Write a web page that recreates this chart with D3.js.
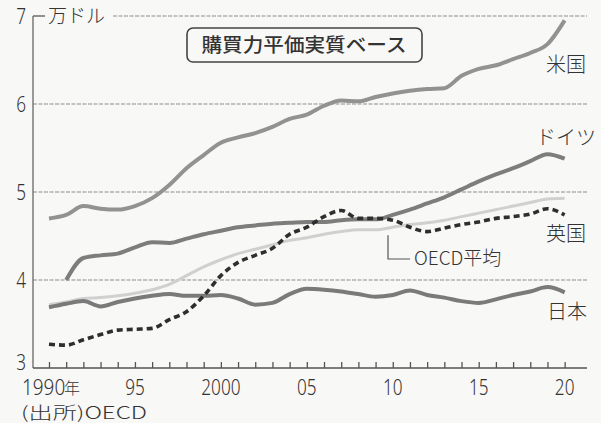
<!DOCTYPE html>
<html>
<head>
<meta charset="utf-8">
<script src="https://cdn.jsdelivr.net/npm/d3@7"></script>
<style>
body{margin:0;background:#f8f8f6;}
svg text{fill:#333;}
</style>
</head>
<body>
<svg id="chart" width="601" height="423"></svg>
<script>
// データ（万ドル、購買力平価実質ベース）
var years=d3.range(1990,2021);
var usa=[4.70,4.74,4.84,4.81,4.80,4.84,4.93,5.08,5.27,5.42,5.56,5.62,5.67,5.74,5.83,5.88,5.98,6.04,6.03,6.08,6.12,6.15,6.17,6.18,6.32,6.40,6.44,6.51,6.58,6.68,6.95];
var germany=[null,4.00,4.25,4.28,4.30,4.37,4.43,4.42,4.47,4.52,4.56,4.60,4.62,4.64,4.65,4.66,4.66,4.68,4.69,4.69,4.74,4.80,4.87,4.94,5.03,5.12,5.20,5.27,5.35,5.43,5.38];
var uk=[3.27,3.26,3.32,3.38,3.43,3.44,3.45,3.55,3.64,3.82,4.05,4.20,4.28,4.36,4.52,4.60,4.72,4.79,4.70,4.70,4.68,4.60,4.55,4.59,4.63,4.66,4.70,4.72,4.75,4.81,4.74];
var oecd=[3.72,3.75,3.79,3.80,3.82,3.85,3.89,3.95,4.05,4.15,4.23,4.30,4.35,4.40,4.45,4.48,4.52,4.55,4.57,4.57,4.60,4.63,4.65,4.68,4.72,4.76,4.80,4.84,4.88,4.92,4.93];
var japan=[3.69,3.73,3.76,3.70,3.75,3.79,3.82,3.84,3.82,3.82,3.83,3.79,3.72,3.74,3.84,3.90,3.89,3.87,3.84,3.81,3.83,3.88,3.83,3.80,3.76,3.74,3.78,3.83,3.87,3.92,3.86];
var yTicks=[3,4,5,6,7];
var xTickLabels=[{y:1990,t:"1990"},{y:1995,t:"95"},{y:2000,t:"2000"},{y:2005,t:"05"},{y:2010,t:"10"},{y:2015,t:"15"},{y:2020,t:"20"}];

var svg=d3.select("#chart");
var fontNum="'Noto Sans','DejaVu Sans',sans-serif";
var fontJp="'Noto Sans CJK JP',sans-serif";
var narrow=0.78;//数字は縦長の書体なので横方向に縮める

var x=d3.scaleLinear().domain([1989.07,2021.3]).range([33,587]);
var y=d3.scaleLinear().domain([3,7]).range([368,16]);

//グリッド線
svg.append("g").selectAll("line")
    .data(yTicks.filter(function(d){return d>3;}))
    .enter().append("line")
    .attr("x1",function(d){return d==7?113:33;})
    .attr("x2",587)
    .attr("y1",function(d){return y(d);})
    .attr("y2",function(d){return y(d);})
    .attr("stroke","#8c8c8c")
    .attr("stroke-width",1.2)
    .attr("stroke-dasharray","4,1.5");
svg.append("line").attr("x1",33).attr("x2",45).attr("y1",y(7)).attr("y2",y(7))
    .attr("stroke","#555").attr("stroke-width",1.3);

//軸
svg.append("line").attr("x1",33).attr("x2",33).attr("y1",y(7)).attr("y2",y(3))
    .attr("stroke","#666").attr("stroke-width",1.3);
var xAxis=d3.axisBottom(x).tickValues(years).tickSize(-6).tickFormat("");
var gx=svg.append("g").attr("transform","translate(0,"+y(3)+")").call(xAxis);
gx.select(".domain").attr("d","M33,0H587").attr("stroke","#555").attr("stroke-width",1.5);
gx.selectAll(".tick line").attr("stroke","#555").attr("stroke-width",1.3);

//目盛りラベル
svg.append("g").selectAll("text")
    .data(yTicks).enter().append("text")
    .attr("transform",function(d){
        var ty=d==3?370:y(d)+8;
        return "translate(26,"+ty+") scale("+narrow+",1)";
    })
    .attr("text-anchor","end")
    .style("font-family",fontNum).style("font-size","22px").style("font-weight","300")
    .text(function(d){return d;});
svg.append("text").attr("x",48).attr("y",y(7)+7)
    .style("font-family",fontJp).style("font-size","19px").style("font-weight","300").text("万ドル");
svg.append("g").selectAll("text")
    .data(xTickLabels).enter().append("text")
    .attr("transform",function(d){
        return d.y==1990?"translate(22,395) scale(0.86,1)":"translate("+x(d.y)+",395) scale("+narrow+",1)";
    })
    .attr("text-anchor",function(d){return d.y==1990?"start":"middle";})
    .style("font-family",fontNum).style("font-size","22px").style("font-weight","300")
    .text(function(d){return d.t;});
svg.append("text").attr("x",64).attr("y",394)
    .style("font-family",fontJp).style("font-size","16px").style("font-weight","300").text("年");
svg.append("text").attr("x",21).attr("y",419)
    .style("font-family",fontJp).style("font-size","17px").style("font-weight","300").text("(出所)OECD")
    .attr("textLength",126).attr("lengthAdjust","spacingAndGlyphs");

//タイトル枠
svg.append("rect").attr("x",187).attr("y",28).attr("width",235).attr("height",34)
    .attr("rx",6).attr("fill","none").attr("stroke","#444").attr("stroke-width",1.6);
svg.append("text").attr("x",304).attr("y",52).attr("text-anchor","middle")
    .style("font-family",fontJp).style("font-size","19px").style("font-weight","500")
    .attr("textLength",205).attr("lengthAdjust","spacingAndGlyphs")
    .text("購買力平価実質ベース");

//折れ線
var line=d3.line()
    .defined(function(d){return d.v!=null;})
    .x(function(d){return x(d.year);})
    .y(function(d){return y(d.v);})
    .curve(d3.curveMonotoneX);
function toPts(arr){return years.map(function(yr,i){return {year:yr,v:arr[i]};});}
var series=[
    {data:oecd,color:"#d0d0d0",w:3,dash:null},
    {data:japan,color:"#7a7a7a",w:4,dash:null},
    {data:germany,color:"#7d7d7d",w:4,dash:null},
    {data:usa,color:"#929292",w:4,dash:null},
    {data:uk,color:"#2e2e2e",w:3.6,dash:"6,4"}
];
svg.append("g").selectAll("path")
    .data(series).enter().append("path")
    .attr("d",function(d){return line(toPts(d.data));})
    .attr("fill","none")
    .attr("stroke",function(d){return d.color;})
    .attr("stroke-width",function(d){return d.w;})
    .attr("stroke-dasharray",function(d){return d.dash;})
    .attr("stroke-linejoin","round");

//系列ラベル
var labels=[{t:"米国",x:566,y:72},{t:"ドイツ",x:566,y:145},{t:"英国",x:566,y:241},{t:"日本",x:567,y:319}];
svg.append("g").selectAll("text")
    .data(labels).enter().append("text")
    .attr("x",function(d){return d.x;}).attr("y",function(d){return d.y;})
    .attr("text-anchor","middle")
    .style("font-family",fontJp).style("font-size","20px").style("font-weight","300")
    .text(function(d){return d.t;});

//OECD平均の引き出し線
svg.append("path").attr("d","M388,"+(y(oecd[20])+8)+"V259H410")
    .attr("fill","none").attr("stroke","#555").attr("stroke-width",1.2);
svg.append("text").attr("x",414).attr("y",265)
    .style("font-family",fontJp).style("font-size","19px").style("font-weight","300")
    .text("OECD平均");
</script>
</body>
</html>
